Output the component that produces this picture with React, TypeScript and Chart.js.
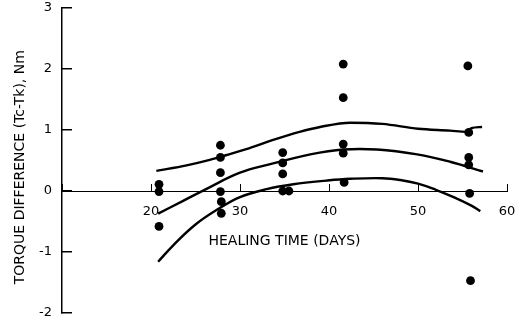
import React, { useEffect, useRef } from "react";
import { Chart, registerables } from "chart.js";

Chart.register(...registerables);

const FONT = "'DejaVu Sans', 'Liberation Sans', sans-serif";

// Observed data points (healing time in days, torque difference in Nm)
const pointDays = [
  20.9, 20.9, 20.9,
  27.8, 27.8, 27.8, 27.8, 27.9, 27.9,
  34.8, 34.8, 34.8, 34.8, 35.5,
  41.6, 41.6, 41.6, 41.6, 41.7,
  55.6, 55.7, 55.7, 55.7, 55.8, 55.9,
];
const pointTorque = [
  0.11, -0.01, -0.58,
  0.75, 0.55, 0.3, -0.01, -0.175, -0.365,
  0.63, 0.46, 0.28, 0.0, 0.0,
  2.08, 1.53, 0.77, 0.62, 0.14,
  2.05, 0.96, 0.55, 0.43, -0.04, -1.47,
];

// Upper band curve
const upperDays = [20.6, 24, 26.6, 28.5, 31, 34, 36.7, 39, 42.4, 46, 50, 53.6, 55.4, 56.0, 57.2];
const upperVals = [0.33, 0.42, 0.51, 0.59, 0.7, 0.85, 0.97, 1.05, 1.12, 1.1, 1.02, 0.99, 0.97, 1.03, 1.05];

// Middle (fitted) curve
const middleDays = [20.8, 23.5, 26.3, 30, 33.4, 37.9, 41.6, 45.4, 49.9, 53.6, 57.3];
const middleVals = [-0.37, -0.17, 0.04, 0.3, 0.44, 0.6, 0.68, 0.68, 0.6, 0.48, 0.32];

// Lower band curve
const lowerDays = [20.8, 22.5, 25, 27.5, 30, 33, 36, 39.7, 42.4, 46, 48, 50, 52, 54, 56, 57];
const lowerVals = [-1.16, -0.89, -0.55, -0.3, -0.1, 0.03, 0.11, 0.17, 0.2, 0.21, 0.18, 0.12, 0.02, -0.1, -0.24, -0.33];

// Axis ticks
const xTickValues = [10, 20, 30, 40, 50, 60];
const yTickValues = [-2, -1, 0, 1, 2, 3];

const toXY = (xs: number[], ys: number[]) => xs.map((x, i) => ({ x, y: ys[i] }));

export default function App() {
  const ref = useRef<HTMLCanvasElement | null>(null);

  useEffect(() => {
    if (!ref.current) return;
    const curve = (xs: number[], ys: number[], mode: "monotone" | "default") => ({
      data: toXY(xs, ys),
      showLine: true,
      borderColor: "#000",
      borderWidth: 2.4,
      pointRadius: 0,
      pointHoverRadius: 0,
      cubicInterpolationMode: mode,
      tension: 0.4,
      fill: false,
    });
    const chart = new Chart(ref.current, {
      type: "scatter",
      data: {
        datasets: [
          {
            data: toXY(pointDays, pointTorque),
            showLine: false,
            pointRadius: 4.4,
            pointBackgroundColor: "#000",
            pointBorderColor: "#000",
            pointBorderWidth: 0,
          },
          curve(upperDays, upperVals, "monotone"),
          curve(middleDays, middleVals, "default"),
          curve(lowerDays, lowerVals, "default"),
        ] as any,
      },
      options: {
        responsive: false,
        animation: false,
        devicePixelRatio: 1,
        layout: { padding: { left: 0, top: 8, right: 21, bottom: 14 } },
        plugins: { legend: { display: false }, tooltip: { enabled: false } },
        scales: {
          x: {
            type: "linear",
            position: { y: 0 } as any,
            min: 10,
            max: 60,
            afterBuildTicks: (s: any) => {
              s.ticks = xTickValues.map((v) => ({ value: v }));
            },
            ticks: {
              padding: 21,
              color: "#000",
              font: { family: FONT, size: 13 },
              maxRotation: 0,
              autoSkip: false,
              callback: (v: any) => (Number(v) === 10 ? "" : String(v)),
            },
            grid: {
              drawOnChartArea: false,
              drawTicks: true,
              tickLength: -8,
              color: "#000",
              lineWidth: 1,
            },
            border: { display: true, color: "#000", width: 1 },
            title: {
              display: true,
              text: "HEALING TIME (DAYS)",
              color: "#000",
              font: { family: FONT, size: 14 },
              padding: { top: -8, bottom: 0 },
            },
            afterFit: (s: any) => {
              s.paddingLeft = 0;
              s.paddingRight = 0;
            },
          },
          y: {
            type: "linear",
            position: "left",
            min: -2,
            max: 3,
            afterBuildTicks: (s: any) => {
              s.ticks = yTickValues.map((v) => ({ value: v }));
            },
            ticks: {
              padding: 20,
              color: "#000",
              font: { family: FONT, size: 13 },
              callback: (v: any) => String(v),
            },
            grid: {
              drawOnChartArea: false,
              drawTicks: true,
              tickLength: -10,
              color: "#000",
              lineWidth: 1.5,
            },
            border: { display: true, color: "#000", width: 1.5 },
            title: {
              display: true,
              text: "TORQUE DIFFERENCE (Tc-Tk), Nm   ",
              color: "#000",
              font: { family: FONT, size: 14 },
              padding: { top: 12, bottom: 0 },
            },
            afterFit: (s: any) => {
              s.width = 62;
              s.paddingTop = 0;
              s.paddingBottom = 0;
            },
          },
        },
      } as any,
    });
    return () => chart.destroy();
  }, []);

  return (
    <div style={{ position: "absolute", left: 0, top: 0, width: 528, height: 327, background: "#fff" }}>
      <canvas ref={ref} width={528} height={327} style={{ display: "block", width: 528, height: 327 }} />
    </div>
  );
}
